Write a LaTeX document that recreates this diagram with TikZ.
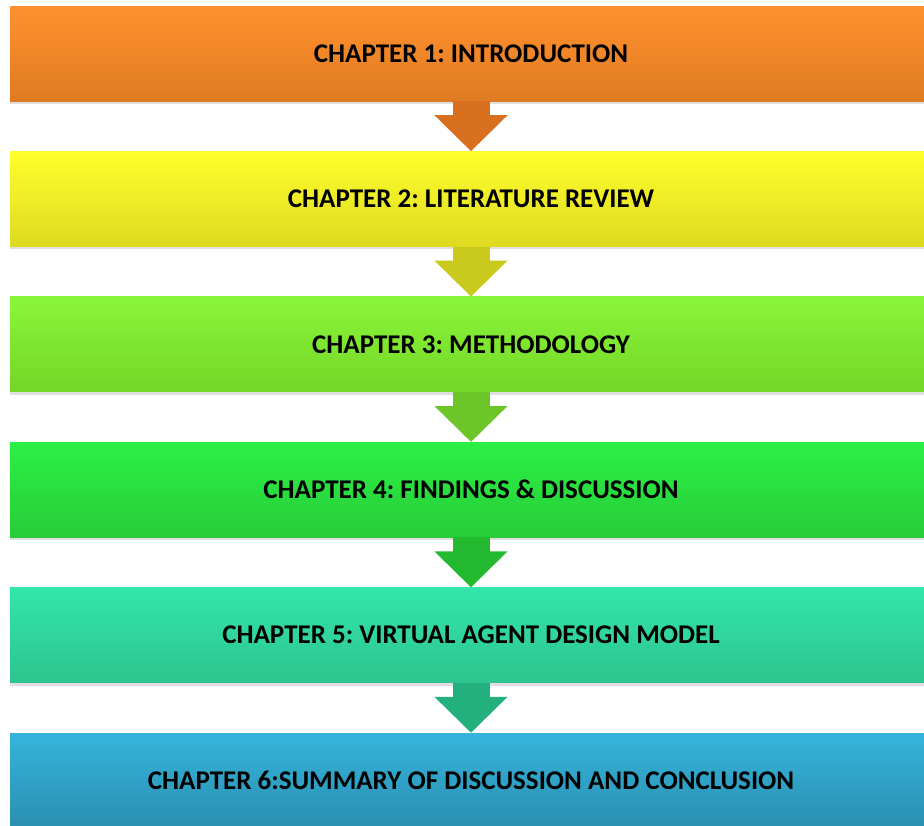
\documentclass[tikz,border=0pt]{standalone}
\usepackage{fontspec}
\setmainfont{Carlito}
\frenchspacing
\usetikzlibrary{positioning,arrows.meta,shadows}

\definecolor{top1}{HTML}{FF922E}\definecolor{bot1}{HTML}{E07A22}\definecolor{arr1}{HTML}{D8701F}
\definecolor{top2}{HTML}{FFFF2C}\definecolor{bot2}{HTML}{DDDA20}\definecolor{arr2}{HTML}{C9C91E}
\definecolor{top3}{HTML}{8AF63A}\definecolor{bot3}{HTML}{74D626}\definecolor{arr3}{HTML}{6CC629}
\definecolor{top4}{HTML}{2BF046}\definecolor{bot4}{HTML}{28CC38}\definecolor{arr4}{HTML}{24BA30}
\definecolor{top5}{HTML}{33E6AB}\definecolor{bot5}{HTML}{2DC48F}\definecolor{arr5}{HTML}{24B07E}
\definecolor{top6}{HTML}{36B4DC}\definecolor{bot6}{HTML}{2A8FB0}

\tikzset{
  chap/.style={rectangle, minimum width=922pt, minimum height=95pt, inner sep=0pt,
    top color=top#1, bottom color=bot#1,
    drop shadow={opacity=0.25, shadow xshift=0pt, shadow yshift=-3pt},
    font=\bfseries\fontsize{27}{31}\selectfont},
  flow/.style={draw=arr#1, line width=37pt, -{Triangle[width=71pt,length=36pt]}}
}

\begin{document}
\begin{tikzpicture}[x=1pt, y=1pt, node distance = 50pt]
                    \useasboundingbox (0,0) rectangle (924,-825);

                    \node [chap=1] (c1) at (471,-53.5) {CHAPTER 1: INTRODUCTION};
                    \node [chap=2] [below=of c1] (c2) {CHAPTER 2: LITERATURE REVIEW};
                    \node [chap=3] [below=of c2] (c3) {CHAPTER 3: METHODOLOGY};
                    \node [chap=4] [below=of c3] (c4) {CHAPTER 4: FINDINGS \& DISCUSSION};
                    \node [chap=5] [below=of c4] (c5) {CHAPTER 5: VIRTUAL AGENT DESIGN MODEL};
                    \node [chap=6] [below=of c5] (c6) {CHAPTER 6:SUMMARY OF DISCUSSION AND CONCLUSION};

                    \draw [flow=1] (c1) -- (c2);
                    \draw [flow=2] (c2) -- (c3);
                    \draw [flow=3] (c3) -- (c4);
                    \draw [flow=4] (c4) -- (c5);
                    \draw [flow=5] (c5) -- (c6);

                \end{tikzpicture}
\end{document}
